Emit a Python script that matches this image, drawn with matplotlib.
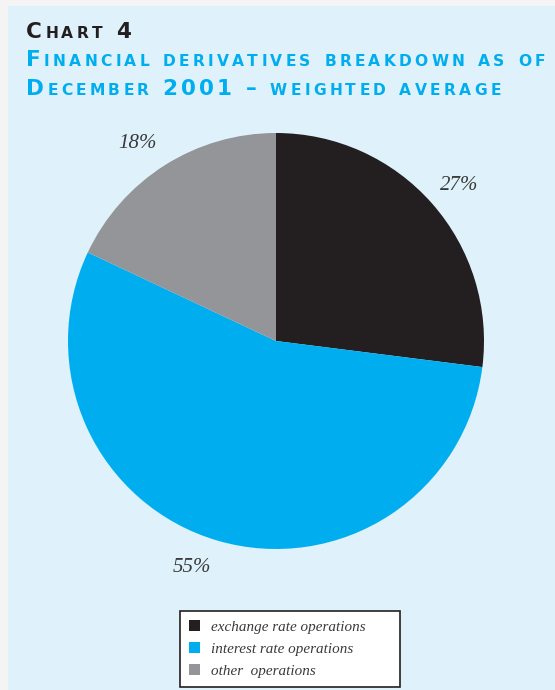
import matplotlib
matplotlib.use("Agg")
import matplotlib.pyplot as plt
from matplotlib.patches import Rectangle
from matplotlib.transforms import IdentityTransform

# Financial derivatives by type, December 2001 (weighted average)
categories = ["exchange rate operations", "interest rate operations", "other  operations"]
shares = [27, 55, 18]
colors = ["#231f20", "#00aeef", "#939598"]

title_line1 = "Chart 4"
title_line2 = "Financial derivatives breakdown as of"
title_line3 = "December 2001 \u2013 weighted average"

W, H = 555, 690
fig = plt.figure(figsize=(W / 100, H / 100), dpi=100)
fig.patch.set_facecolor("#f4f4f4")
fig.patches.append(Rectangle((8 / W, 0), 1, 684 / H, transform=fig.transFigure,
                             facecolor="#dff1fa", edgecolor="none", zorder=-1))

renderer = fig.canvas.get_renderer()
BIG, SMALL = 15.5, 11.2


def caps_pieces(text):
    out = []
    for ch in text:
        out.append((ch.upper(), SMALL if ch.islower() else BIG))
    return out


def glyph_width(ch, size):
    t = fig.text(0, 0, ch, fontsize=size, family="DejaVu Sans", weight="bold",
                 transform=IdentityTransform())
    w = t.get_window_extent(renderer).width
    t.remove()
    return w


def natural_width(text):
    return sum(BIG * 0.45 if ch == " " else glyph_width(ch, s)
               for ch, s in caps_pieces(text))


def small_caps(x, y_top, text, color, tracking):
    """Draw text as spaced small caps, left edge x, baseline y_top (px from top)."""
    y = H - y_top
    for ch, size in caps_pieces(text):
        if ch == " ":
            x += BIG * 0.45 + tracking
            continue
        t = fig.text(x, y, ch, fontsize=size, color=color, family="DejaVu Sans",
                     weight="bold", ha="left", va="baseline",
                     transform=IdentityTransform())
        x += t.get_window_extent(renderer).width + tracking


# letter spacing so the long title line runs from x=26 to x=545
track = (545 - 26 - natural_width(title_line2)) / (len(title_line2) - 1)

small_caps(26, 38, title_line1, "#231f20", track)
small_caps(26, 66, title_line2, "#00aeef", track)
small_caps(26, 95, title_line3, "#00aeef", track)

# pie centred at (276, 341) px, radius 208 px
cx, cy, r = 276, 341, 208
ax = fig.add_axes([(cx - r) / W, (H - cy - r) / H, 2 * r / W, 2 * r / H])
wedges, _, pcts = ax.pie(shares, colors=colors, startangle=90, counterclock=False,
                         autopct=lambda p: f"{p:.0f}%", pctdistance=1.16,
                         wedgeprops=dict(linewidth=0))
# small nudges (px) to the percentage labels
nudges = [(2, -4), (-17, 5), (-9, -6)]
for t, (dx, dy) in zip(pcts, nudges):
    x, y = t.get_position()
    t.set_position((x + dx / r, y + dy / r))
    t.set_fontsize(15)
    t.set_family("Liberation Serif")
    t.set_style("italic")
    t.set_color("#3a3a3a")
ax.set_xlim(-1, 1)
ax.set_ylim(-1, 1)
ax.set_aspect("equal")
ax.axis("off")

handles = [Rectangle((0, 0), 1, 1, facecolor=c, edgecolor="none") for c in colors]
leg = fig.legend(handles, categories, loc="lower left", mode="expand",
                 bbox_to_anchor=(180 / W, 3 / H, 220 / W, 78 / H), borderaxespad=0,
                 prop=dict(family="Liberation Serif", style="italic", size=10.9),
                 labelcolor="#3a3a3a", handlelength=0.7, handleheight=0.7,
                 handletextpad=0.75, labelspacing=0.55, borderpad=0.6,
                 fancybox=False, framealpha=1, facecolor="white",
                 edgecolor="#231f20")
leg.get_frame().set_linewidth(1.2)

fig.savefig("out.png", dpi=100)
